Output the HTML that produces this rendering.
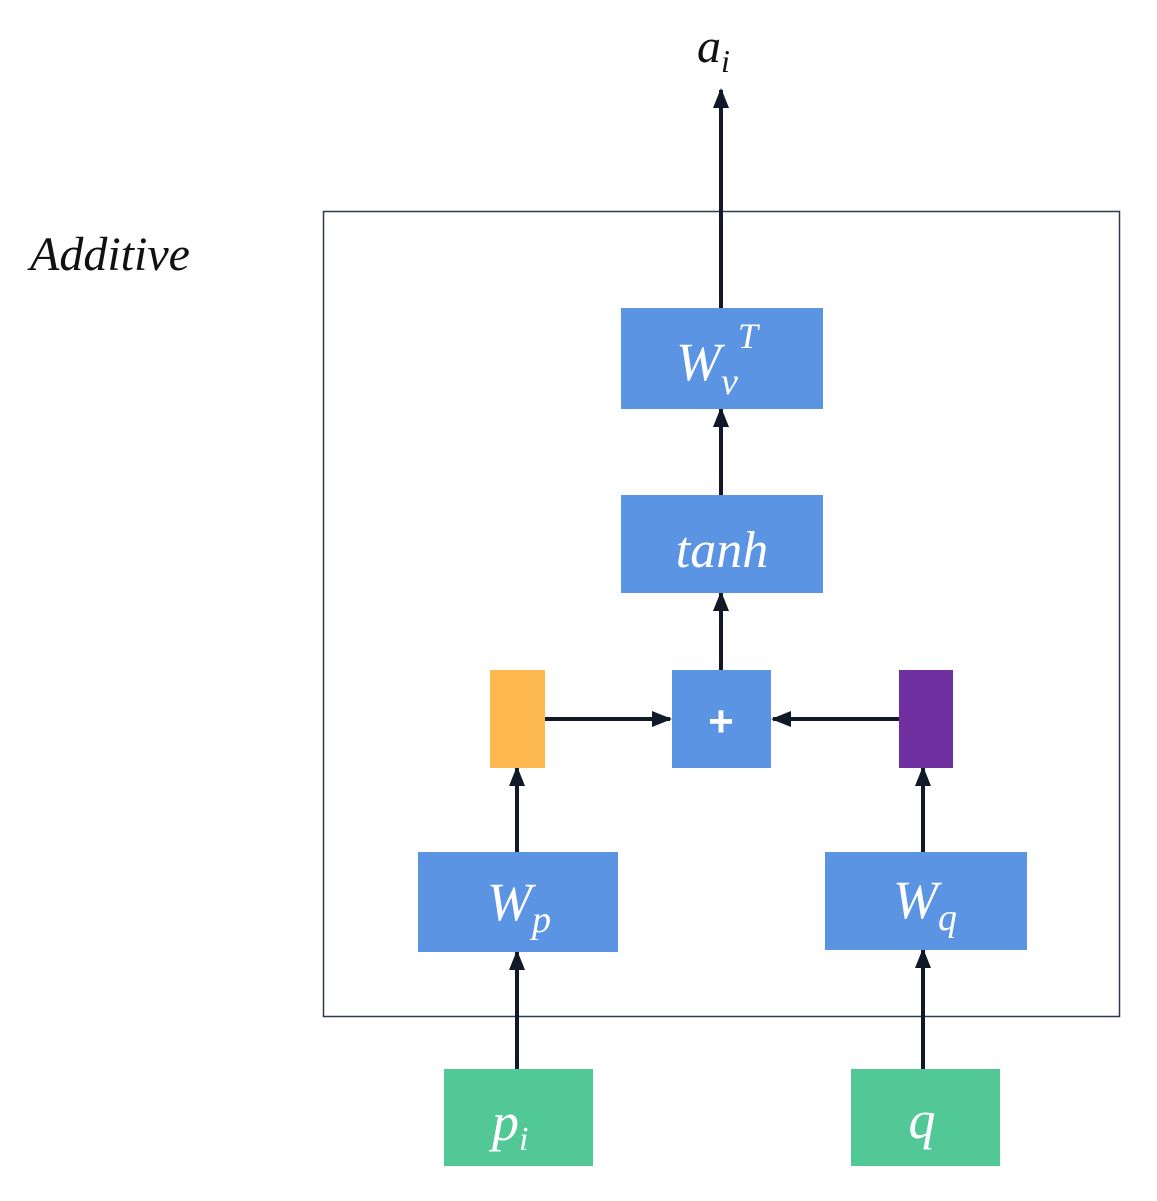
<!DOCTYPE html>
<html><head><style>body{margin:0;background:#fff}</style></head><body>
<svg width="1157" height="1196" xmlns="http://www.w3.org/2000/svg" font-family="Liberation Serif, serif" font-style="italic">
<defs><marker id="a" markerWidth="10" markerHeight="10" refX="9" refY="5" orient="auto" markerUnits="userSpaceOnUse" viewBox="0 0 10 10"><path d="M0,0 L10,5 L0,10 z" fill="#111827"/></marker>
<marker id="b" markerWidth="20" markerHeight="20" refX="18" refY="10" orient="auto" markerUnits="userSpaceOnUse" viewBox="0 0 20 20"><path d="M0,2 L20,10 L0,18 z" fill="#111827"/></marker></defs>
<rect x="323.5" y="211.5" width="796" height="805" fill="none" stroke="#2b3a4f" stroke-width="1.5"/>
<text x="30" y="270" font-size="48" fill="#111">Additive</text>
<text x="697" y="62" font-size="48" fill="#111">a<tspan font-size="32" dy="10">i</tspan></text>
<g stroke="#111827" stroke-width="4" marker-end="url(#b)">
<line x1="721" y1="308" x2="721" y2="90"/>
<line x1="721" y1="495" x2="721" y2="409"/>
<line x1="721" y1="670" x2="721" y2="593"/>
<line x1="545" y1="719" x2="670" y2="719"/>
<line x1="899" y1="719" x2="773" y2="719"/>
<line x1="517" y1="852" x2="517" y2="768"/>
<line x1="923" y1="852" x2="923" y2="768"/>
<line x1="517" y1="1069" x2="517" y2="952"/>
<line x1="923" y1="1069" x2="923" y2="950"/>
</g>
<rect x="621" y="308" width="202" height="101" fill="#5b94e2"/>
<rect x="621" y="495" width="202" height="98" fill="#5b94e2"/>
<rect x="672" y="670" width="99" height="98" fill="#5b94e2"/>
<rect x="490" y="670" width="55" height="98" fill="#fdb84f"/>
<rect x="899" y="670" width="54" height="98" fill="#7030a0"/>
<rect x="418" y="852" width="200" height="100" fill="#5b94e2"/>
<rect x="825" y="852" width="202" height="98" fill="#5b94e2"/>
<rect x="444" y="1069" width="149" height="97" fill="#52c896"/>
<rect x="851" y="1069" width="149" height="97" fill="#52c896"/>
<g fill="#fff">
<text x="676" y="380" font-size="54">W<tspan font-size="38" dy="14">v</tspan><tspan font-size="36" dy="-46">T</tspan></text>
<text x="722" y="567" font-size="52" text-anchor="middle">tanh</text>
<text x="721" y="736" font-size="44" font-style="normal" font-weight="bold" text-anchor="middle" font-family="Liberation Sans, sans-serif">+</text>
<text x="487" y="920" font-size="54">W<tspan font-size="38" dy="12">p</tspan></text>
<text x="893" y="918" font-size="54">W<tspan font-size="38" dy="12">q</tspan></text>
<text x="492" y="1140" font-size="54">p<tspan font-size="34" dy="10">i</tspan></text>
<text x="922" y="1138" font-size="54" text-anchor="middle">q</text>
</g>
</svg>
</body></html>
